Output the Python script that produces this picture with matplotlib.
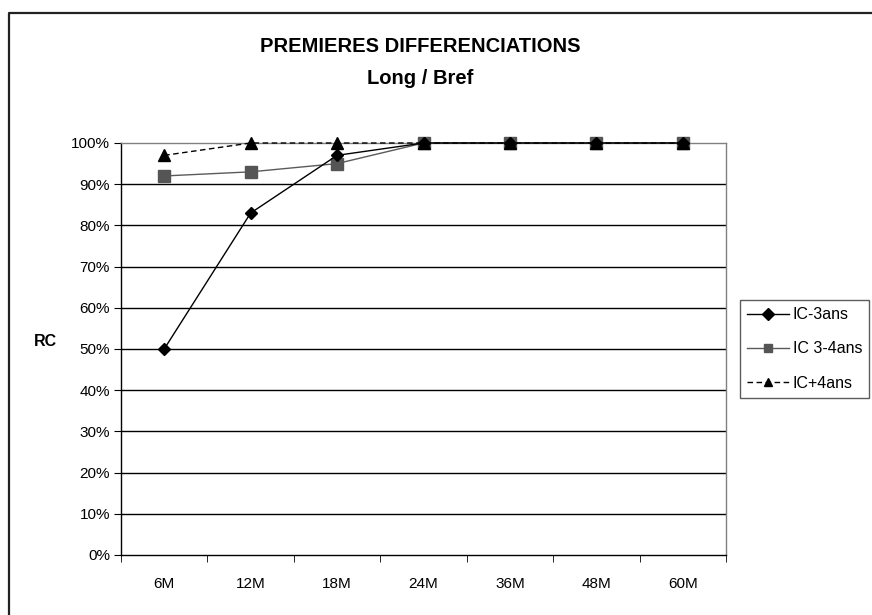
import matplotlib
matplotlib.use("Agg")
import matplotlib.pyplot as plt

plt.rcParams['font.family'] = ['Liberation Sans', 'DejaVu Sans']

categories = ["6M", "12M", "18M", "24M", "36M", "48M", "60M"]
ic_moins3 = [50, 83, 97, 100, 100, 100, 100]
ic_3_4 = [92, 93, 95, 100, 100, 100, 100]
ic_plus4 = [97, 100, 100, 100, 100, 100, 100]
series_names = ["IC-3ans", "IC 3-4ans", "IC+4ans"]
y_ticks = list(range(0, 101, 10))

W, H = 872, 615
fig = plt.figure(figsize=(W / 100, H / 100), dpi=100)

def px(x0, y0, x1, y1):
    return [x0 / W, 1 - y1 / H, (x1 - x0) / W, (y1 - y0) / H]

# outer chart frame (left and top edges visible)
frame = fig.add_axes([0, 0, 1, 1], zorder=0)
frame.set_xlim(0, W)
frame.set_ylim(H, 0)
frame.axis("off")
frame.plot([8.5, 8.5, W], [H, 12.5, 12.5], color="#222222", lw=1.6)

ax = fig.add_axes(px(121, 143, 726, 555), zorder=1)
x = list(range(len(categories)))
ax.set_xlim(-0.5, len(categories) - 0.5)
ax.set_ylim(0, 100)

for v in y_ticks[1:-1]:
    ax.axhline(v, color="black", lw=1.0, zorder=1)

l1, = ax.plot(x, ic_moins3, color="black", lw=1.0, marker="D", markersize=6,
              markerfacecolor="black", markeredgecolor="black", zorder=4)
l2, = ax.plot(x, ic_3_4, color="#5a5a5a", lw=1.0, marker="s", markersize=8,
              markerfacecolor="#555555", markeredgecolor="#555555", zorder=3)
l3, = ax.plot(x, ic_plus4, color="black", lw=1.0, ls=(0, (4, 2.5)), marker="^", markersize=8,
              markerfacecolor="black", markeredgecolor="black", zorder=5)
series_lines = [l1, l2, l3]
for line in series_lines:
    line.set_clip_on(False)

ax.set_yticks(y_ticks)
ax.set_yticklabels([f"{v}%" for v in y_ticks], fontsize=11)
ax.set_xticks(x)
ax.set_xticklabels(categories, fontsize=11)
ax.tick_params(axis="x", length=0, pad=16)
ax.set_xticks([i + 0.5 for i in range(-1, len(categories))], minor=True)
ax.tick_params(axis="x", which="minor", length=5, direction="out", color="black")
ax.tick_params(axis="y", length=5, direction="out", color="black", pad=3)

ax.spines["left"].set_color("black")
ax.spines["bottom"].set_color("black")
ax.spines["top"].set_color("#808080")
ax.spines["right"].set_color("#808080")
for s in ax.spines.values():
    s.set_linewidth(1.0)

ax.set_ylabel("RC", fontsize=11.5, fontweight="bold", rotation=0, labelpad=0)
ax.yaxis.set_label_coords(-0.125, 0.5)

fig.text(420 / W, 1 - 46 / H, "PREMIERES DIFFERENCIATIONS", ha="center", va="center",
         fontsize=14.5, fontweight="bold")
fig.text(420 / W, 1 - 79 / H, "Long / Bref", ha="center", va="center",
         fontsize=14.5, fontweight="bold")

leg = fig.legend(handles=series_lines, labels=series_names, loc="upper left",
                 bbox_to_anchor=(740 / W, 1 - 300 / H), fontsize=11.5, frameon=True,
                 fancybox=False, edgecolor="#333333", handlelength=2.6, handletextpad=0.25,
                 borderpad=0.45, labelspacing=1.2, borderaxespad=0)
leg.get_frame().set_linewidth(1.0)
for h in leg.legend_handles:
    h.set_markersize(6)

fig.savefig("out.png", dpi=100, facecolor="white")
